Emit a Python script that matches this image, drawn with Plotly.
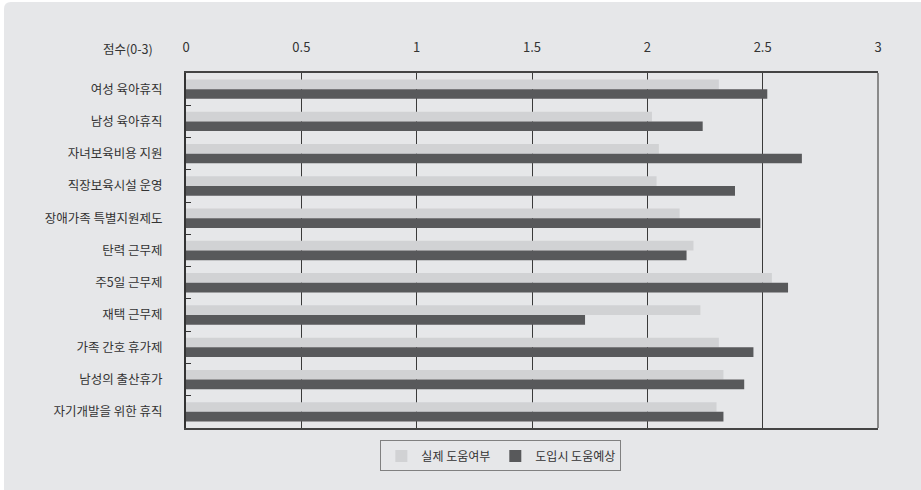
import plotly.graph_objects as go

categories = ["여성 육아휴직", "남성 육아휴직", "자녀보육비용 지원", "직장보육시설 운영",
              "장애가족 특별지원제도", "탄력 근무제", "주5일 근무제", "재택 근무제",
              "가족 간호 휴가제", "남성의 출산휴가", "자기개발을 위한 휴직"]
actual = [2.31, 2.02, 2.05, 2.04, 2.14, 2.20, 2.54, 2.23, 2.31, 2.33, 2.30]
expected = [2.52, 2.24, 2.67, 2.38, 2.49, 2.17, 2.61, 1.73, 2.46, 2.42, 2.33]
series_names = ["실제 도움여부", "도입시 도움예상"]
x_ticks = [0, 0.5, 1, 1.5, 2, 2.5, 3]
x_tick_labels = ["0", "0.5", "1", "1.5", "2", "2.5", "3"]

FONT = "Noto Sans CJK KR, Noto Sans, sans-serif"
BG = "#e6e7e9"

fig = go.Figure()
fig.add_trace(go.Bar(y=categories, x=actual, name=series_names[0], orientation="h",
                     marker=dict(color="#d1d2d4", line=dict(width=0))))
fig.add_trace(go.Bar(y=categories, x=expected, name=series_names[1], orientation="h",
                     marker=dict(color="#58595b", line=dict(width=0))))

L, R, T, B = 186, 43, 73, 62
W, H = 921, 490
pw, ph = W - L - R, H - T - B

def px_to_paper(xp, yp):
    return (xp - L) / pw, (H - B - yp) / ph

x0, y0 = px_to_paper(4, 2)
x1, y1 = px_to_paper(921, 490)
rx, ry = 7 / pw, 7 / ph
path = (f"M {x0},{y1} L {x0},{y0 - ry} Q {x0},{y0} {x0 + rx},{y0} "
        f"L {x1},{y0} L {x1},{y1} Z")

fig.update_layout(
    width=W, height=H,
    margin=dict(l=L, r=R, t=T, b=B),
    paper_bgcolor="white",
    plot_bgcolor=BG,
    barmode="group",
    bargap=0.4,
    bargroupgap=0,
    font=dict(family=FONT, size=12.5, color="#333333"),
    showlegend=True,
    legend=dict(orientation="h", x=0.455, xanchor="center", y=-0.035, yanchor="top",
                bordercolor="#808080", borderwidth=1, bgcolor=BG,
                font=dict(size=12, color="#333333"), itemwidth=30),
    shapes=[dict(type="path", path=path, xref="paper", yref="paper",
                 fillcolor=BG, line=dict(width=0), layer="below")],
    annotations=[dict(text="점수(0-3)", xref="paper", yref="paper",
                      x=px_to_paper(155, 0)[0], y=px_to_paper(0, 48)[1],
                      xanchor="right", yanchor="middle", showarrow=False,
                      font=dict(size=12.5, color="#333333"))],
)

fig.update_xaxes(
    side="top", range=[0, 3], tickvals=x_ticks, ticktext=x_tick_labels,
    showgrid=True, gridcolor="#3a3a3a", gridwidth=1,
    showline=True, linecolor="#444444", linewidth=2, mirror=True,
    ticks="", ticklabelstandoff=14, zeroline=False,
    tickfont=dict(size=13, color="#333333"),
)
fig.update_yaxes(
    autorange="reversed", showgrid=False,
    showline=True, linecolor="#333333", linewidth=2,
    ticks="inside", ticklen=5, tickcolor="#333333", tickson="boundaries",
    ticklabelstandoff=19, tickfont=dict(size=12.5, color="#333333"),
)
# right border gray
fig.add_shape(type="line", xref="paper", yref="paper", x0=1, x1=1, y0=0, y1=1,
              line=dict(color="#8a8a8a", width=2))

fig.write_html("out.html")
